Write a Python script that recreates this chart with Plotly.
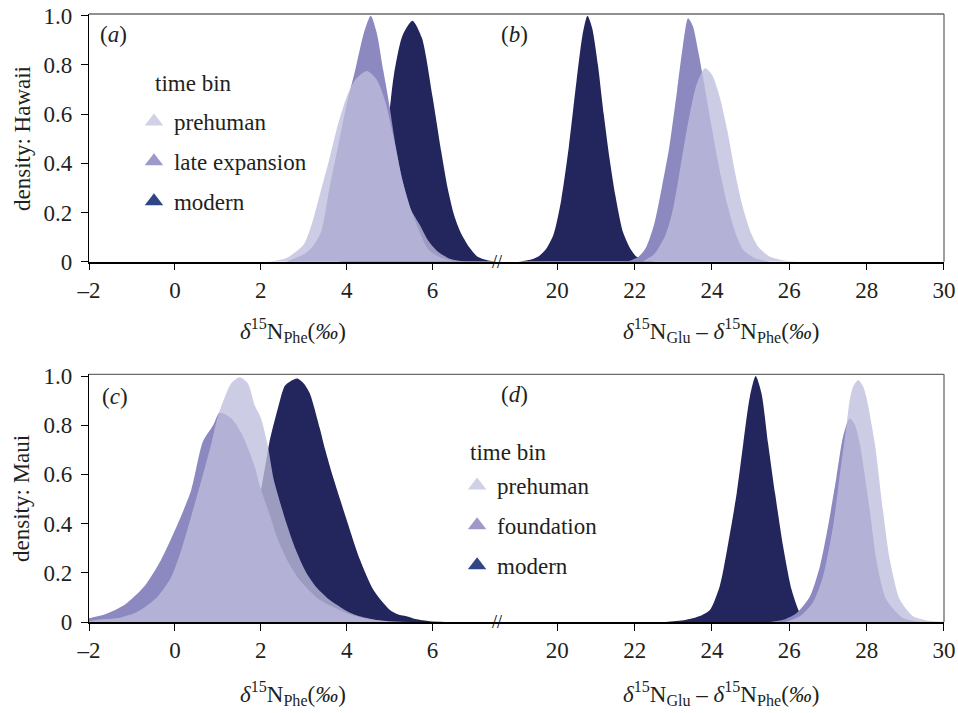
import plotly.graph_objects as go

# ---------------- data ----------------
# Panel (a): Hawaii, d15N Phe
a_modern_x = [3.8, 4.2, 4.5, 4.7, 4.9, 5.1, 5.3, 5.53, 5.75, 6.0, 6.2, 6.35, 6.5, 6.65, 6.85, 7.05, 7.3, 7.5]
a_modern_y = [0.0, 0.02, 0.08, 0.2, 0.45, 0.76, 0.92, 0.98, 0.91, 0.67, 0.45, 0.3, 0.19, 0.12, 0.06, 0.02, 0.005, 0.0]
a_late_x = [2.6, 3.0, 3.2, 3.4, 3.6, 3.8, 4.0, 4.2, 4.4, 4.56, 4.7, 4.85, 5.0, 5.15, 5.3, 5.5, 5.7, 5.9, 6.2, 6.6]
a_late_y = [0.0, 0.03, 0.06, 0.12, 0.3, 0.47, 0.64, 0.78, 0.93, 1.0, 0.93, 0.78, 0.63, 0.46, 0.33, 0.21, 0.12, 0.05, 0.015, 0.0]
a_pre_x = [2.2, 2.6, 3.0, 3.2, 3.4, 3.6, 3.8, 4.0, 4.2, 4.47, 4.7, 4.9, 5.1, 5.3, 5.5, 5.7, 5.9, 6.1, 6.4, 6.8]
a_pre_y = [0.0, 0.015, 0.07, 0.16, 0.29, 0.42, 0.56, 0.67, 0.74, 0.775, 0.74, 0.65, 0.5, 0.33, 0.21, 0.15, 0.085, 0.045, 0.012, 0.0]

# Panel (b): Hawaii, d15N Glu - d15N Phe
b_modern_x = [19.0, 19.3, 19.5, 19.7, 19.9, 20.1, 20.3, 20.5, 20.65, 20.78, 20.9, 21.05, 21.2, 21.35, 21.5, 21.7, 21.9, 22.05, 22.3, 22.6]
b_modern_y = [0.0, 0.008, 0.02, 0.05, 0.11, 0.25, 0.47, 0.74, 0.92, 1.0, 0.95, 0.8, 0.6, 0.42, 0.27, 0.12, 0.05, 0.02, 0.005, 0.0]
b_late_x = [21.8, 22.1, 22.3, 22.5, 22.7, 22.9, 23.1, 23.25, 23.38, 23.5, 23.65, 23.8, 24.0, 24.2, 24.4, 24.6, 24.8, 25.1, 25.5]
b_late_y = [0.0, 0.02, 0.06, 0.15, 0.3, 0.47, 0.7, 0.88, 0.99, 0.96, 0.85, 0.72, 0.54, 0.37, 0.23, 0.12, 0.05, 0.015, 0.0]
b_pre_x = [22.2, 22.5, 22.8, 23.0, 23.2, 23.4, 23.6, 23.82, 24.0, 24.2, 24.4, 24.6, 24.8, 25.0, 25.2, 25.5, 25.9, 26.3]
b_pre_y = [0.0, 0.03, 0.11, 0.22, 0.4, 0.58, 0.72, 0.786, 0.76, 0.67, 0.53, 0.36, 0.22, 0.12, 0.06, 0.02, 0.004, 0.0]

# Panel (c): Maui, d15N Phe
c_modern_x = [0.4, 0.8, 1.2, 1.5, 1.8, 2.0, 2.12, 2.2, 2.4, 2.56, 2.7, 2.85, 3.0, 3.14, 3.37, 3.5, 3.68, 4.0, 4.31, 4.62, 5.0, 5.2, 5.39, 5.6, 5.94, 6.3]
c_modern_y = [0.0, 0.01, 0.05, 0.14, 0.33, 0.53, 0.65, 0.73, 0.87, 0.96, 0.98, 0.99, 0.97, 0.93, 0.79, 0.7, 0.59, 0.415, 0.253, 0.131, 0.05, 0.03, 0.023, 0.012, 0.003, 0.0]
c_found_x = [-2.1, -1.64, -1.17, -0.71, -0.32, 0.07, 0.38, 0.65, 0.89, 1.04, 1.31, 1.55, 1.86, 1.97, 2.2, 2.4, 2.65, 2.9, 3.37, 4.0, 4.5, 5.0, 5.5]
c_found_y = [0.012, 0.03, 0.07, 0.145, 0.253, 0.4, 0.537, 0.733, 0.8, 0.851, 0.828, 0.767, 0.632, 0.557, 0.44, 0.334, 0.24, 0.172, 0.09, 0.036, 0.012, 0.003, 0.0]
c_pre_x = [-2.1, -1.76, -1.33, -0.86, -0.4, -0.08, 0.15, 0.38, 0.62, 0.85, 1.0, 1.31, 1.51, 1.7, 1.86, 2.0, 2.17, 2.3, 2.6, 2.8, 3.06, 3.3, 3.6, 4.0, 4.3, 4.8, 5.3]
c_pre_y = [0.0, 0.01, 0.016, 0.043, 0.104, 0.185, 0.294, 0.43, 0.578, 0.727, 0.835, 0.97, 0.995, 0.97, 0.88, 0.83, 0.71, 0.58, 0.4, 0.3, 0.2, 0.14, 0.09, 0.045, 0.023, 0.005, 0.0]

# Panel (d): Maui, d15N Glu - d15N Phe
d_modern_x = [22.8, 23.34, 23.7, 23.95, 24.2, 24.42, 24.64, 24.81, 24.98, 25.13, 25.28, 25.45, 25.63, 25.84, 26.06, 26.27, 26.44, 26.7]
d_modern_y = [0.0, 0.009, 0.025, 0.05, 0.145, 0.32, 0.524, 0.727, 0.916, 1.0, 0.93, 0.727, 0.524, 0.307, 0.131, 0.037, 0.009, 0.0]
d_found_x = [25.5, 25.84, 26.19, 26.53, 26.79, 27.0, 27.22, 27.39, 27.56, 27.7, 27.82, 28.08, 28.25, 28.51, 28.94, 29.4]
d_found_y = [0.0, 0.009, 0.037, 0.104, 0.226, 0.388, 0.59, 0.754, 0.828, 0.8, 0.727, 0.456, 0.253, 0.09, 0.016, 0.0]
d_pre_x = [25.9, 26.27, 26.6, 26.87, 27.13, 27.3, 27.48, 27.56, 27.66, 27.78, 27.9, 27.99, 28.21, 28.42, 28.6, 28.86, 29.2, 29.5, 29.8, 30.2]
d_pre_y = [0.0, 0.023, 0.077, 0.185, 0.388, 0.59, 0.8, 0.9, 0.96, 0.984, 0.96, 0.916, 0.727, 0.456, 0.253, 0.09, 0.023, 0.008, 0.002, 0.0]

# axis ticks
left_tickvals = [-2, 0, 2, 4, 6]
left_ticktext = ['\u20132', '0', '2', '4', '6']
right_tickvals = [20, 22, 24, 26, 28, 30]
right_ticktext = ['20', '22', '24', '26', '28', '30']
y_tickvals = [0, 0.2, 0.4, 0.6, 0.8, 1.0]
y_ticktext = ['0', '0.2', '0.4', '0.6', '0.8', '1.0']

# ---------------- styling ----------------
FONT = 'Liberation Serif'
TXT = '#231f20'
FS = 23
C_MODERN = '#22265c'
C_MID = '#8c88c0'
C_PRE = 'rgba(190,190,220,0.78)'

XB = 0.4772          # break position (paper x)
TOP_DOM = [0.5926, 1.0]
BOT_DOM = [0.0, 0.4074]

fig = go.Figure()


def area(x, y, color, xa, ya, name):
    fig.add_trace(go.Scatter(
        x=x, y=y, mode='lines', name=name,
        line=dict(width=0, color=color, shape='spline', smoothing=0.7),
        fill='tozeroy', fillcolor=color,
        xaxis=xa, yaxis=ya, showlegend=False, hoverinfo='skip'))


# draw order: modern, middle bin, prehuman (translucent on top)
area(a_modern_x, a_modern_y, C_MODERN, 'x', 'y', 'modern')
area(a_late_x, a_late_y, C_MID, 'x', 'y', 'late expansion')
area(a_pre_x, a_pre_y, C_PRE, 'x', 'y', 'prehuman')

area(b_modern_x, b_modern_y, C_MODERN, 'x2', 'y2', 'modern')
area(b_late_x, b_late_y, C_MID, 'x2', 'y2', 'late expansion')
area(b_pre_x, b_pre_y, C_PRE, 'x2', 'y2', 'prehuman')

area(c_modern_x, c_modern_y, C_MODERN, 'x3', 'y3', 'modern')
area(c_found_x, c_found_y, C_MID, 'x3', 'y3', 'foundation')
area(c_pre_x, c_pre_y, C_PRE, 'x3', 'y3', 'prehuman')

area(d_modern_x, d_modern_y, C_MODERN, 'x4', 'y4', 'modern')
area(d_found_x, d_found_y, C_MID, 'x4', 'y4', 'foundation')
area(d_pre_x, d_pre_y, C_PRE, 'x4', 'y4', 'prehuman')

# legend entries
leg_a = [('prehuman', '#d0d0e6'), ('late expansion', '#9d9acb'), ('modern', '#2f4585')]
leg_d = [('prehuman', '#d0d0e6'), ('foundation', '#9d9acb'), ('modern', '#2f4585')]
for i, (nm, col) in enumerate(leg_a):
    fig.add_trace(go.Scatter(x=[None], y=[None], mode='markers', name=nm,
                             marker=dict(symbol='triangle-up', size=16, color=col, line=dict(width=0)),
                             legend='legend', legendgroup='a%d' % i, xaxis='x', yaxis='y'))
for i, (nm, col) in enumerate(leg_d):
    fig.add_trace(go.Scatter(x=[None], y=[None], mode='markers', name=nm,
                             marker=dict(symbol='triangle-up', size=16, color=col, line=dict(width=0)),
                             legend='legend2', legendgroup='d%d' % i, xaxis='x4', yaxis='y4'))

xcommon = dict(showline=True, linecolor='black', linewidth=1.6, ticks='outside', ticklen=7,
               tickwidth=1.2, tickcolor='black', showgrid=False, zeroline=False, automargin=False,
               tickfont=dict(family=FONT, size=FS, color=TXT))
ycommon = dict(showline=True, linecolor='black', linewidth=1.4, ticks='outside', ticklen=7,
               tickwidth=1.2, tickcolor='black', showgrid=False, zeroline=False, automargin=False,
               range=[0, 1.007], tickvals=y_tickvals, ticktext=y_ticktext, ticklabelstandoff=4,
               tickfont=dict(family=FONT, size=FS, color=TXT))

legend_common = dict(bgcolor='rgba(0,0,0,0)', borderwidth=0, tracegroupgap=7,
                     font=dict(family=FONT, size=FS, color=TXT), xanchor='left', yanchor='top',
                     itemsizing='trace', traceorder='grouped')

fig.update_layout(
    width=958, height=713, autosize=False,
    margin=dict(l=89, r=14, t=14, b=91),
    paper_bgcolor='white', plot_bgcolor='white',
    font=dict(family=FONT, size=FS, color=TXT),
    xaxis=dict(xcommon, domain=[0, XB], range=[-2, 7.5], tickvals=left_tickvals, ticktext=left_ticktext, anchor='y'),
    xaxis2=dict(xcommon, domain=[XB, 1], range=[18.44, 30], tickvals=right_tickvals, ticktext=right_ticktext, anchor='y2'),
    xaxis3=dict(xcommon, domain=[0, XB], range=[-2, 7.5], tickvals=left_tickvals, ticktext=left_ticktext, anchor='y3'),
    xaxis4=dict(xcommon, domain=[XB, 1], range=[18.44, 30], tickvals=right_tickvals, ticktext=right_ticktext, anchor='y4'),
    yaxis=dict(ycommon, domain=TOP_DOM, anchor='x'),
    yaxis2=dict(domain=TOP_DOM, range=[0, 1.007], visible=False, anchor='x2', automargin=False),
    yaxis3=dict(ycommon, domain=BOT_DOM, anchor='x3'),
    yaxis4=dict(domain=BOT_DOM, range=[0, 1.007], visible=False, anchor='x4', automargin=False),
    legend=dict(legend_common, x=0.0526, y=0.8586),
    legend2=dict(legend_common, x=0.4305, y=0.2599),
    showlegend=True,
)

# frame: top and right borders (grey)
for yd in ['y domain', 'y3 domain']:
    fig.add_shape(type='line', xref='paper', yref=yd, x0=0, x1=1, y0=1, y1=1,
                  line=dict(color='#6b6b6b', width=1.3))
    fig.add_shape(type='line', xref='paper', yref=yd, x0=1, x1=1, y0=0, y1=1,
                  line=dict(color='#6b6b6b', width=1.3))

ann = []
# axis break marks
for yd in ['y domain', 'y3 domain']:
    ann.append(dict(text='//', xref='paper', yref=yd, x=XB, y=0, showarrow=False,
                    xanchor='center', yanchor='middle', font=dict(family=FONT, size=18, color='black')))
# y titles
ann.append(dict(text='density: Hawaii', xref='paper', yref='paper', x=-0.0784, y=0.796, textangle=-90,
                showarrow=False, xanchor='center', yanchor='middle'))
ann.append(dict(text='density: Maui', xref='paper', yref='paper', x=-0.0784, y=0.204, textangle=-90,
                showarrow=False, xanchor='center', yanchor='middle'))
# x titles
t_left = '<i>\u03b4</i><sup>15</sup>N<sub>Phe</sub>(<i>\u2030</i>)'
t_right = '<i>\u03b4</i><sup>15</sup>N<sub>Glu</sub> \u2013 <i>\u03b4</i><sup>15</sup>N<sub>Phe</sub>(<i>\u2030</i>)'
for yy in [0.480, -0.1168]:
    ann.append(dict(text=t_left, xref='paper', yref='paper', x=XB / 2, y=yy, showarrow=False,
                    xanchor='center', yanchor='middle'))
    ann.append(dict(text=t_right, xref='paper', yref='paper', x=(XB + 1) / 2, y=yy, showarrow=False,
                    xanchor='center', yanchor='middle'))
# panel labels
for lab, xx, yy in [('a', 0.0292, 0.9655), ('b', 0.4982, 0.9655), ('c', 0.0304, 0.3717), ('d', 0.4982, 0.375)]:
    ann.append(dict(text='(<i>%s</i>)' % lab, xref='paper', yref='paper', x=xx, y=yy, showarrow=False,
                    xanchor='center', yanchor='middle'))
# legend titles
ann.append(dict(text='time bin', xref='paper', yref='paper', x=0.1228, y=0.8865, showarrow=False,
                xanchor='center', yanchor='middle'))
ann.append(dict(text='time bin', xref='paper', yref='paper', x=0.4912, y=0.2796, showarrow=False,
                xanchor='center', yanchor='middle'))
fig.update_layout(annotations=ann)

# remove the default 8 px page margin so the 958x713 figure fills the window exactly
fig.write_html('out.html', config={'displayModeBar': False},
               post_script="document.body.style.margin='0px';document.body.style.overflow='hidden';")
